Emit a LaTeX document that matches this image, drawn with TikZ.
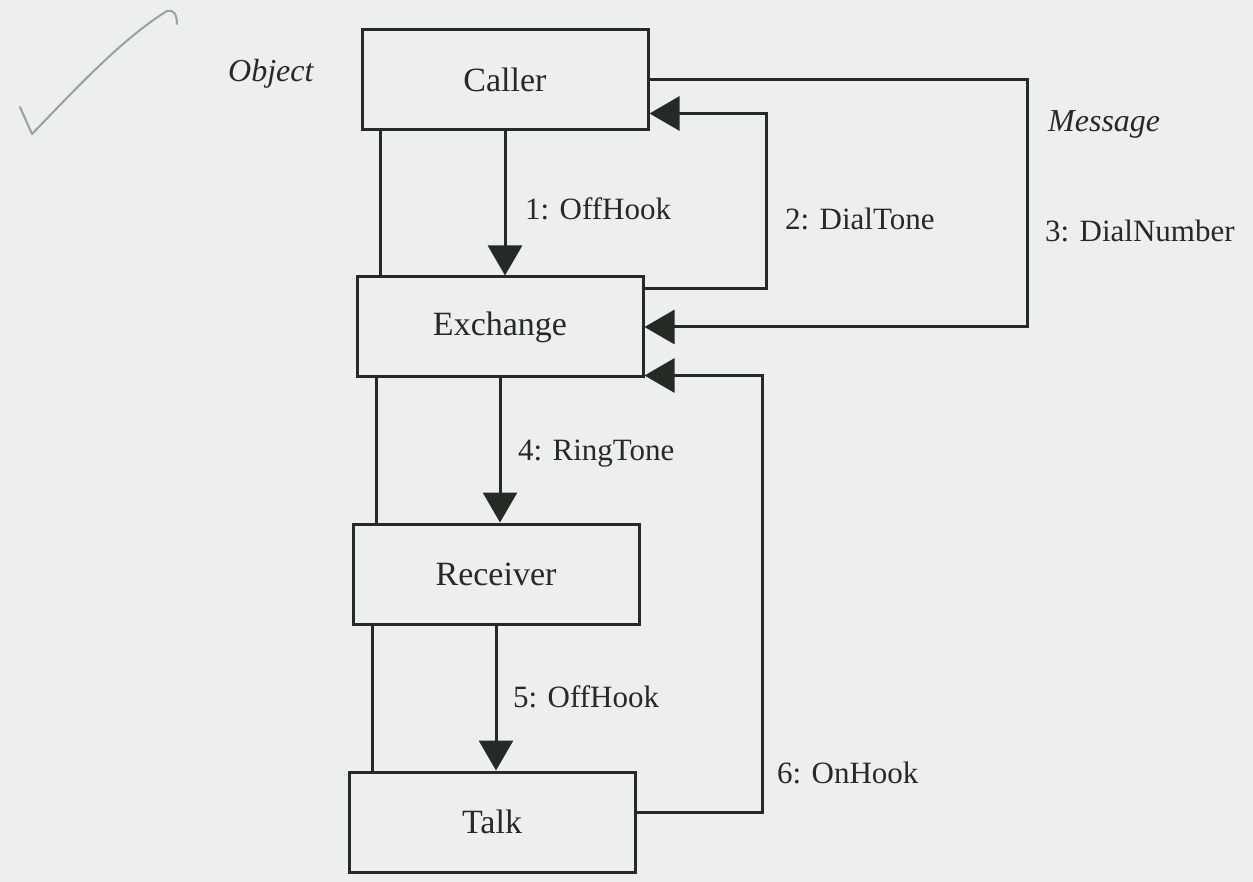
\documentclass[tikz,border=0pt]{standalone}
\usepackage{fontspec}
\setmainfont{Liberation Serif}
\usetikzlibrary{arrows.meta}
\definecolor{ink}{RGB}{36,42,36}
\definecolor{paper}{RGB}{236,239,236}
\definecolor{pencil}{RGB}{150,165,155}

\begin{document}
\begin{tikzpicture}[x=1pt, y=-1pt,
    obj/.style={draw=ink, line width=3pt, text=ink, inner sep=0pt,
        minimum width=286pt, minimum height=100pt, font=\fontsize{34}{40}\selectfont},
    link/.style={draw=ink, line width=3pt},
    msg/.style={draw=ink, line width=3pt, -{Triangle[length=30pt,width=34pt]}},
    msgtext/.style={text=ink, anchor=base west, inner sep=0pt, font=\fontsize{31}{37}\selectfont},
    note/.style={text=ink, anchor=base west, inner sep=0pt, font=\fontsize{32}{38}\selectfont\itshape},
    pen/.style={draw=pencil, line width=2pt, line cap=round, line join=round}
]
\useasboundingbox[fill=paper] (0,0) rectangle (1253,882);

% -------- Marca a lápiz --------
\draw[pen] (20,107) -- (32,134) .. controls (70,95) and (120,40) .. (167,11)
    .. controls (173,9) and (177,14) .. (177,24);

% -------- Objetos --------
\node[obj] (caller)   at (505,80)  {Caller};
\node[obj] (exchange) at (500,327) {Exchange};
\node[obj] (receiver) at (496,574) {Receiver};
\node[obj] (talk)     at (492,822) {Talk};

\node[note] (object)  at (228,82)   {Object};
\node[note] (message) at (1048,132) {Message};

% Enlaces entre objetos
\draw[link] ([xshift=20pt]caller.south west)   -- ([xshift=25pt]exchange.north west);
\draw[link] ([xshift=21pt]exchange.south west) -- ([xshift=25pt]receiver.north west);
\draw[link] ([xshift=21pt]receiver.south west) -- ([xshift=25pt]talk.north west);

% -------- Mensajes --------
\coordinate (tone)   at (766,200);
\coordinate (number) at (1027,200);
\coordinate (hook)   at (762,600);

\draw[msg] (caller.south) -- ([xshift=5pt]exchange.north);
\draw[msg] ([yshift=-13pt]exchange.north east) -| (tone) |- ([yshift=18pt]caller.south east);
\draw[msg] (caller.east) -| (number) |- (exchange.east);
\draw[msg] (exchange.south) -- ([xshift=4pt]receiver.north);
\draw[msg] (receiver.south) -- ([xshift=4pt]talk.north);
\draw[msg] ([yshift=10pt]talk.east) -| (hook) |- ([yshift=3pt]exchange.south east);

\node[msgtext] (m1) at (525,220)  {1: OffHook};
\node[msgtext] (m2) at (785,230)  {2: DialTone};
\node[msgtext] (m3) at (1045,242) {3: DialNumber};
\node[msgtext] (m4) at (518,460)  {4: RingTone};
\node[msgtext] (m5) at (513,707)  {5: OffHook};
\node[msgtext] (m6) at (777,783)  {6: OnHook};
\end{tikzpicture}
\end{document}
